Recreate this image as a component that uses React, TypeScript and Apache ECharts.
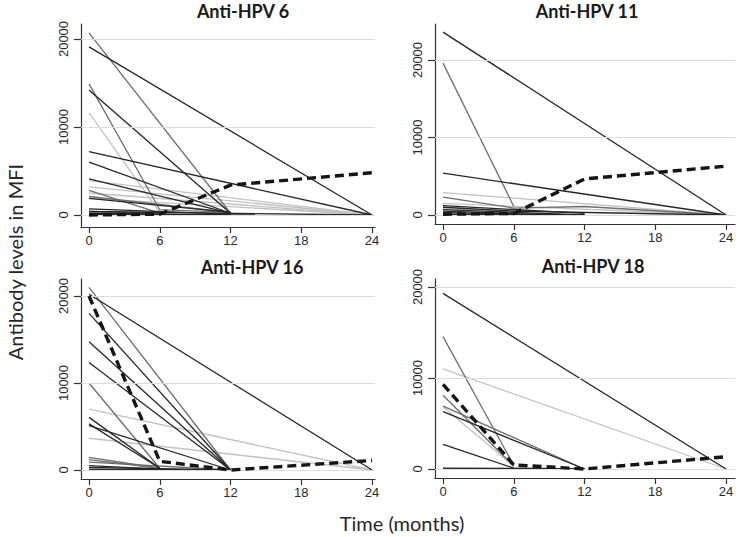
import { useEffect, useRef } from "react";
import * as echarts from "echarts";

type Pt = [number, number];

const timeTicks = [0, 6, 12, 18, 24];
const valueTicks = [0, 10000, 20000];
const panelTitles = ["Anti-HPV 6", "Anti-HPV 11", "Anti-HPV 16", "Anti-HPV 18"];
const xAxisTitle = "Time (months)";
const yAxisTitle = "Antibody levels in MFI";

// ---- Anti-HPV 6 ----
const hpv6Light: Pt[][] = [
  [[0, 11600], [6, 300]],
  [[0, 3900], [24, 0]],
  [[0, 3200], [24, 0]],
  [[0, 2500], [24, 0]],
  [[0, 1900], [24, 0]],
];
const hpv6Gray: Pt[][] = [
  [[0, 20700], [12, 200]],
  [[0, 14900], [6, 600], [12, 300]],
  [[0, 2800], [6, 200]],
  [[0, 2100], [12, 300]],
  [[0, 400], [6, 200]],
];
const hpv6Black: Pt[][] = [
  [[0, 19100], [24, 0]],
  [[0, 14200], [12, 200]],
  [[0, 7200], [24, 0]],
  [[0, 6000], [12, 200]],
  [[0, 4100], [12, 200]],
  [[0, 1900], [12, 300]],
  [[0, 700], [12, 100]],
  [[0, 400], [24, 0]],
  [[0, 200], [12, 0]],
  [[0, 50], [24, 0]],
];
const hpv6Mean: Pt[] = [[0, 0], [6, 100], [12, 3400], [24, 4800]];

// ---- Anti-HPV 11 ----
const hpv11Light: Pt[][] = [
  [[0, 2900], [24, 0]],
  [[0, 1500], [24, 0]],
  [[0, 800], [12, 300], [24, 0]],
];
const hpv11Gray: Pt[][] = [
  [[0, 19600], [6, 1100]],
  [[0, 2300], [6, 900], [12, 1100], [24, 0]],
];
const hpv11Black: Pt[][] = [
  [[0, 23600], [24, 0]],
  [[0, 5400], [24, 0]],
  [[0, 1200], [12, 200]],
  [[0, 1000], [6, 500], [24, 0]],
  [[0, 700], [12, 0]],
  [[0, 500], [6, 200]],
  [[0, 300], [12, 0]],
  [[0, 100], [12, 0]],
];
const hpv11Mean: Pt[] = [[0, 100], [6, 200], [12, 4650], [24, 6300]];

// ---- Anti-HPV 16 ----
const hpv16Light: Pt[][] = [
  [[0, 7000], [24, 0]],
  [[0, 3650], [24, 0]],
];
const hpv16Gray: Pt[][] = [
  [[0, 21000], [12, 0]],
  [[0, 10000], [6, 200]],
  [[0, 1450], [6, 200]],
  [[0, 1200], [6, 200]],
  [[0, 900], [12, 0]],
];
const hpv16Black: Pt[][] = [
  [[0, 20200], [24, 0]],
  [[0, 18000], [12, 0]],
  [[0, 14750], [12, 0]],
  [[0, 12350], [12, 0]],
  [[0, 6050], [6, 200]],
  [[0, 5300], [6, 200]],
  [[0, 5100], [12, 0]],
  [[0, 500], [6, 100]],
  [[0, 300], [12, 0]],
  [[0, 100], [12, 0]],
  [[0, 0], [12, 0]],
];
const hpv16Mean: Pt[] = [[0, 20000], [6, 1000], [12, 0], [24, 1100]];

// ---- Anti-HPV 18 ----
const hpv18Light: Pt[][] = [
  [[0, 11000], [24, 0]],
  [[0, 6850], [6, 300]],
];
const hpv18Gray: Pt[][] = [
  [[0, 14550], [6, 400]],
  [[0, 8100], [6, 300]],
  [[0, 6900], [12, 0]],
];
const hpv18Black: Pt[][] = [
  [[0, 19300], [24, 0]],
  [[0, 6300], [12, 0]],
  [[0, 2700], [6, 100], [12, 0]],
  [[0, 100], [12, 0]],
  [[0, 0], [12, 0]],
];
const hpv18Mean: Pt[] = [[0, 9300], [6, 450], [12, 0], [24, 1350]];

const panelData = [
  { light: hpv6Light, gray: hpv6Gray, black: hpv6Black, mean: hpv6Mean },
  { light: hpv11Light, gray: hpv11Gray, black: hpv11Black, mean: hpv11Mean },
  { light: hpv16Light, gray: hpv16Gray, black: hpv16Black, mean: hpv16Mean },
  { light: hpv18Light, gray: hpv18Gray, black: hpv18Black, mean: hpv18Mean },
];

// layout (pixels / axis extents)
const layout = [
  { left: 81, top: 24, width: 294, height: 203, xMin: -0.68, xMax: 24.25, yMin: -1364, yMax: 21705, tx: 243, ty: 2 },
  { left: 435, top: 24, width: 300, height: 200, xMin: -0.68, xMax: 24.76, yMin: -1161, yMax: 24645, tx: 587, ty: 2 },
  { left: 81, top: 279, width: 294, height: 200, xMin: -0.68, xMax: 24.25, yMin: -1034, yMax: 21954, tx: 252, ty: 258 },
  { left: 435, top: 279, width: 300, height: 199, xMin: -0.68, xMax: 24.76, yMin: -989, yMax: 20879, tx: 593, ty: 257 },
];

const COL_LIGHT = "#c2c2c2";
const COL_GRAY = "#6e6e6e";
const COL_BLACK = "#262626";
const AXIS_COL = "#333333";
const LABEL_FONT = "'Liberation Sans', Arial, sans-serif";
const TITLE_FONT = "Lato, 'Noto Sans', sans-serif";

function buildOption() {
  const grids: any[] = [];
  const xAxes: any[] = [];
  const yAxes: any[] = [];
  const series: any[] = [];
  const graphics: any[] = [];

  layout.forEach((l, i) => {
    grids.push({ left: l.left, top: l.top, width: l.width, height: l.height, outerBoundsMode: "none", containLabel: false });
    xAxes.push({
      type: "value",
      gridIndex: i,
      min: l.xMin,
      max: l.xMax,
      axisLine: { show: true, onZero: false, lineStyle: { color: AXIS_COL, width: 1.2 } },
      axisTick: { show: true, inside: false, length: 6, customValues: timeTicks, lineStyle: { color: AXIS_COL, width: 1.2 } },
      axisLabel: {
        show: true,
        customValues: timeTicks,
        margin: 7,
        color: "#2a2a2a",
        fontSize: 13,
        fontFamily: LABEL_FONT,
        formatter: (v: number) => String(v),
      },
      splitLine: { show: false },
    });
    yAxes.push({
      type: "value",
      gridIndex: i,
      min: l.yMin,
      max: l.yMax,
      axisLine: { show: true, onZero: false, lineStyle: { color: AXIS_COL, width: 1.2 } },
      axisTick: { show: true, inside: false, length: 7, customValues: valueTicks, lineStyle: { color: AXIS_COL, width: 1.2 } },
      axisLabel: {
        show: true,
        customValues: valueTicks,
        rotate: 90,
        margin: 11,
        color: "#2a2a2a",
        fontSize: 13,
        fontFamily: LABEL_FONT,
        formatter: (v: number) => String(v),
      },
      splitLine: { show: false },
    });

    const d = panelData[i];
    // gridlines
    series.push({
      type: "line",
      xAxisIndex: i,
      yAxisIndex: i,
      data: d.mean,
      symbol: "none",
      silent: true,
      lineStyle: { opacity: 0 },
      z: 1,
      markLine: {
        silent: true,
        symbol: ["none", "none"],
        label: { show: false },
        lineStyle: { color: "#dedede", type: "solid", width: 1 },
        data: valueTicks.map((v) => ({ yAxis: v })),
      },
    });
    const addLines = (lines: Pt[][], color: string, z: number) => {
      lines.forEach((pts) => {
        series.push({
          type: "line",
          xAxisIndex: i,
          yAxisIndex: i,
          data: pts,
          symbol: "none",
          silent: true,
          z,
          lineStyle: { color, width: 1.3 },
        });
      });
    };
    addLines(d.light, COL_LIGHT, 2);
    addLines(d.gray, COL_GRAY, 3);
    addLines(d.black, COL_BLACK, 4);
    series.push({
      type: "line",
      xAxisIndex: i,
      yAxisIndex: i,
      data: d.mean,
      symbol: "none",
      silent: true,
      z: 5,
      lineStyle: { color: "#151515", width: 3.4, type: [9, 5] },
    });

    graphics.push({
      type: "text",
      x: l.tx,
      y: l.ty,
      style: {
        text: panelTitles[i],
        align: "center",
        verticalAlign: "top",
        font: `bold 18px ${TITLE_FONT}`,
        fill: "#1a1a1a",
      },
    });
  });

  graphics.push({
    type: "text",
    x: 402,
    y: 523,
    style: { text: xAxisTitle, align: "center", verticalAlign: "middle", font: `20px ${TITLE_FONT}`, fill: "#262626" },
  });
  graphics.push({
    type: "text",
    x: 15,
    y: 262,
    rotation: Math.PI / 2,
    style: { text: yAxisTitle, align: "center", verticalAlign: "middle", font: `20px ${TITLE_FONT}`, fill: "#262626" },
  });

  return {
    animation: false,
    backgroundColor: "#ffffff",
    grid: grids,
    xAxis: xAxes,
    yAxis: yAxes,
    series,
    graphic: graphics,
  };
}

export default function App() {
  const ref = useRef<HTMLDivElement>(null);
  useEffect(() => {
    document.body.style.margin = "0";
    const chart = echarts.init(ref.current!, undefined, { renderer: "svg" });
    chart.setOption(buildOption() as any);
    return () => chart.dispose();
  }, []);
  return <div ref={ref} style={{ width: 749, height: 537 }} />;
}
